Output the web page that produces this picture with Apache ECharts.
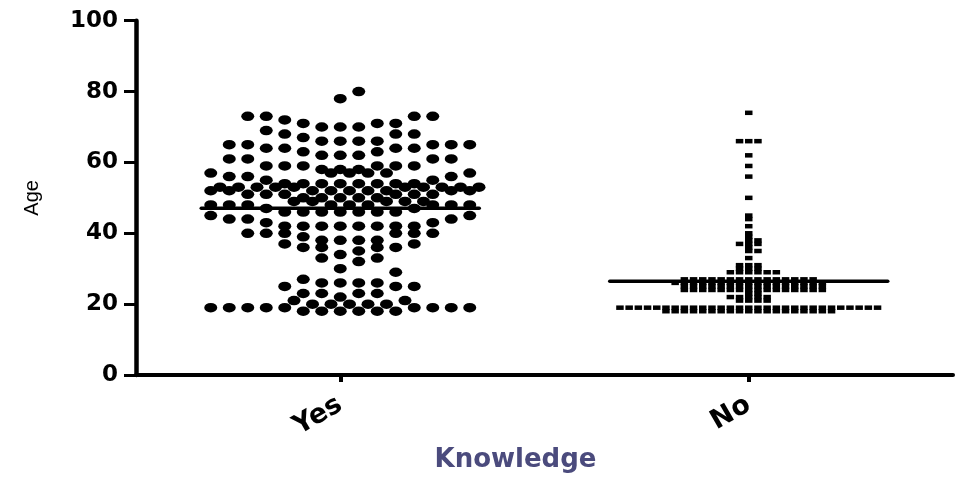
<!DOCTYPE html>
<html>
<head>
<meta charset="utf-8">
<script src="https://cdn.jsdelivr.net/npm/echarts@6/dist/echarts.min.js"></script>
<style>
  html, body { margin: 0; padding: 0; background: #ffffff; }
  #chart { width: 962px; height: 478px; }
</style>
</head>
<body>
<div id="chart"></div>
<script>
// ---------------- data ----------------
const categories = ['Yes', 'No'];
const xAxisTitle = 'Knowledge';
const yAxisTitle = 'Age';
const yTickValues = [0, 20, 40, 60, 80, 100];

// "Yes" group: distinct ages and how many respondents had each age
const yesAgeValues = [18, 19, 20, 21, 22, 23, 25, 26, 27, 29, 30, 32, 33, 34, 35, 36, 37, 38, 39, 40,
                      42, 43, 44, 45, 46, 47, 48, 49, 50, 51, 52, 53, 54, 55, 56, 57, 58, 59, 61, 62,
                      63, 64, 65, 66, 67, 68, 69, 70, 71, 72, 73, 78, 80];
const yesAgeCounts = [6, 9, 5, 2, 1, 4, 3, 4, 1, 1, 1, 1, 2, 1, 1, 4, 2, 4, 1, 6,
                      8, 2, 3, 2, 7, 2, 9, 5, 5, 6, 9, 10, 8, 2, 3, 6, 3, 6, 4, 3,
                      2, 4, 5, 4, 1, 3, 1, 3, 3, 1, 4, 1, 1];

// "No" group
const noAgeValues = [18, 19, 21, 22, 23, 24, 25, 26, 27, 29, 30, 31, 33, 35, 36, 37, 38, 39, 40, 42,
                     44, 45, 50, 56, 59, 62, 66, 74];
const noAgeCounts = [19, 29, 4, 5, 2, 16, 16, 17, 15, 6, 3, 3, 1, 2, 1, 3, 2, 1, 1, 1,
                     1, 1, 1, 1, 1, 1, 3, 1];

// ---------------- layout constants ----------------
const GRID = { left: 136, right: 9, top: 20.7, bottom: 102 };
const plotW = 962 - GRID.left - GRID.right;
const unitsPerPx = 2 / plotW;            // hidden value x-axis runs from -0.5 to 1.5
const LINE_HALF_PX = 139;                 // half length of the mean line

function expand(values, counts) {
  const out = [];
  values.forEach((v, i) => { for (let k = 0; k < counts[i]; k++) out.push(v); });
  return out;
}

// Prism-like scatter-dot layout: values grouped in bins, sorted, spread centre-out,
// overflowing rows wrap into a half-shifted row.
function dotLayout(ages, groupIndex, binYears, binStart, maxCols, colPx) {
  const sorted = ages.slice().sort((a, b) => a - b);
  const bins = new Map();
  sorted.forEach(v => {
    const b = Math.floor((v - binStart) / binYears + 1e-9);
    if (!bins.has(b)) bins.set(b, []);
    bins.get(b).push(v);
  });
  const pts = [];
  bins.forEach(list => {
    list.forEach((v, i) => {
      const chunk = Math.floor(i / maxCols);
      const j = i % maxCols;
      const k = j === 0 ? 0 : (j % 2 === 1 ? (j + 1) / 2 : -j / 2);
      const off = k + (chunk % 2 ? 0.5 : 0);
      pts.push([groupIndex + off * colPx * unitsPerPx, v]);
    });
  });
  return pts;
}

function mean(a) { return a.reduce((s, v) => s + v, 0) / a.length; }

const yesAges = expand(yesAgeValues, yesAgeCounts);
const noAges = expand(noAgeValues, noAgeCounts);

const yesPoints = dotLayout(yesAges, 0, 4, 18, 15, 18.5);
const noPoints = dotLayout(noAges, 1, 1, 0, 30, 9.2);

function meanLine(ages, groupIndex) {
  const m = mean(ages);
  const hw = LINE_HALF_PX * unitsPerPx;
  return [[groupIndex - hw, m], [groupIndex + hw, m]];
}

const ellipse = 'path://M0 5A5 5 0 1 1 10 5A5 5 0 1 1 0 5Z';
const boldFont = 'DejaVu Sans';

const chart = echarts.init(document.getElementById('chart'), null, { renderer: 'canvas' });
chart.setOption({
  animation: false,
  backgroundColor: '#ffffff',
  grid: { left: GRID.left, right: GRID.right, top: GRID.top, bottom: GRID.bottom, containLabel: false },
  xAxis: [
    {
      type: 'category',
      data: categories,
      position: 'bottom',
      boundaryGap: true,
      name: xAxisTitle,
      nameLocation: 'middle',
      nameGap: 72,
      nameTextStyle: {
        fontFamily: boldFont, fontWeight: 'bold', fontSize: 26, color: '#4b4b7d',
        padding: [0, 58, 0, 0]
      },
      axisLine: { show: true, onZero: false, lineStyle: { color: '#000', width: 4 } },
      axisTick: { show: true, alignWithLabel: true, length: 7, lineStyle: { color: '#000', width: 4 } },
      axisLabel: {
        rotate: 30, margin: 28, color: '#000',
        fontFamily: boldFont, fontWeight: 'bold', fontSize: 27
      },
      splitLine: { show: false }
    },
    {
      type: 'value', min: -0.5, max: 1.5, show: false,
      axisLine: { onZero: false }
    }
  ],
  yAxis: {
    type: 'value',
    min: yTickValues[0],
    max: yTickValues[yTickValues.length - 1],
    interval: yTickValues[1] - yTickValues[0],
    name: yAxisTitle,
    nameLocation: 'middle',
    nameRotate: 90,
    nameGap: 94,
    nameTextStyle: { fontFamily: 'Liberation Sans', fontSize: 20, color: '#000' },
    axisLine: { show: true, onZero: false, lineStyle: { color: '#000', width: 4.5 } },
    axisTick: { show: true, length: 12, lineStyle: { color: '#000', width: 3 } },
    axisLabel: { margin: 18, color: '#000', fontFamily: boldFont, fontWeight: 'bold', fontSize: 23 },
    splitLine: { show: false }
  },
  series: [
    {
      type: 'scatter', xAxisIndex: 1, data: yesPoints,
      symbol: ellipse, symbolSize: [13, 9.5],
      itemStyle: { color: '#000', opacity: 1 }, silent: true
    },
    {
      type: 'scatter', xAxisIndex: 1, data: noPoints,
      symbol: 'rect', symbolSize: [7.5, 4.5],
      itemStyle: { color: '#000', opacity: 1 }, silent: true
    },
    {
      type: 'line', xAxisIndex: 1, data: meanLine(yesAges, 0), symbol: 'none', z: 5,
      lineStyle: { color: '#000', width: 3.5, cap: 'round' }, silent: true
    },
    {
      type: 'line', xAxisIndex: 1, data: meanLine(noAges, 1), symbol: 'none', z: 5,
      lineStyle: { color: '#000', width: 3.5, cap: 'round' }, silent: true
    }
  ]
});
</script>
</body>
</html>
